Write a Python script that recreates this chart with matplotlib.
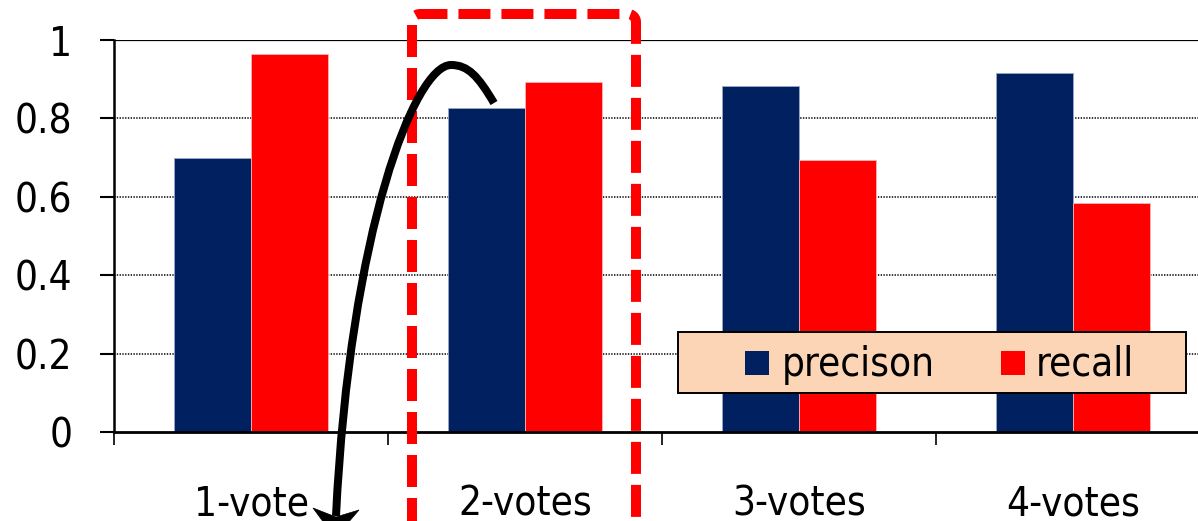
import matplotlib
matplotlib.use("Agg")
import matplotlib.pyplot as plt
import numpy as np
from matplotlib.lines import Line2D
from matplotlib.patches import Rectangle, Polygon, PathPatch
from matplotlib.path import Path
from matplotlib.transforms import IdentityTransform

plt.rcParams['lines.scale_dashes'] = False

# ---- data ----
categories = ["1-vote", "2-votes", "3-votes", "4-votes"]
precision = [0.70, 0.827, 0.883, 0.917]
recall = [0.964, 0.894, 0.694, 0.585]
series_names = ["precison", "recall"]
yticks = [0, 0.2, 0.4, 0.6, 0.8, 1.0]
ytick_labels = ["0", "0.2", "0.4", "0.6", "0.8", "1"]

NAVY = "#002060"
RED = "#FF0000"
LEGEND_BG = "#FBD5B5"
FONT = dict(family="DejaVu Sans", stretch="condensed")
FS = 29

W, H = 1198, 521
fig = plt.figure(figsize=(W / 100, H / 100), dpi=100)
fig.patch.set_facecolor("white")

# axes frame in pixel layout: x from 114 across four 274-px slots, y from 40 (1.0) to 432 (0)
ax = fig.add_axes([114 / W, (H - 432) / H, 1096 / W, 392 / H])
ax.set_xlim(-0.5, 3.5)
ax.set_ylim(0, 1)

x = np.arange(len(categories))
bw = 0.282
ax.bar(x - bw / 2, precision, bw, color=NAVY, edgecolor="#9aa8c8", linewidth=0.6, zorder=3)
ax.bar(x + bw / 2, recall, bw, color=RED, edgecolor="#ffb3b3", linewidth=0.6, zorder=3)

# gridlines
for v in yticks[1:]:
    ax.axhline(v, color="black", linestyle=(0, (1.0, 1.0)), linewidth=1.1, zorder=1)
ax.axhline(1.0, color="black", linewidth=0.9, zorder=1)

for s in ["top", "right"]:
    ax.spines[s].set_visible(False)
ax.spines["left"].set_linewidth(1.8)
ax.spines["bottom"].set_linewidth(2.0)
ax.spines["left"].set_zorder(4)
ax.spines["bottom"].set_zorder(4)

ax.set_yticks(yticks)
ax.set_yticklabels(ytick_labels, fontsize=FS, **FONT)
ax.tick_params(axis="y", length=10, width=1.5, pad=20, direction="out")

ax.set_xticks(x)
ax.set_xticklabels(categories, fontsize=FS, **FONT)
ax.set_xticks(np.arange(-0.5, 4.0, 1.0), minor=True)
ax.tick_params(axis="x", which="major", length=0, pad=38)
ax.tick_params(axis="x", which="minor", length=9.5, width=1.2, direction="out")

# ---- legend (drawn in pixel space) ----
def disp(px, py):
    return (px, H - py)

tr = IdentityTransform()
lx0, ly0, lx1, ly1 = 678, 332, 1186, 393
fig.patches.append(Rectangle(disp(lx0, ly1), lx1 - lx0, ly1 - ly0, transform=tr,
                             facecolor=LEGEND_BG, edgecolor="black", linewidth=1.4, zorder=5))
sq = 24
for (sx, tx), name, col in zip([(745, 782), (1001, 1036)], series_names, [NAVY, RED]):
    fig.patches.append(Rectangle(disp(sx, 375), sq, sq, transform=tr,
                                 facecolor=col, edgecolor="none", zorder=6))
    fig.text(*disp(tx, 376), name, transform=tr, fontsize=FS, va="baseline", ha="left",
             zorder=7, **FONT)

# ---- dashed highlight frame around the 2-votes group ----
bx0, bx1, by, r = 412, 636, 14, 8
ang = np.linspace(np.pi, np.pi / 2, 12)
pts = [(bx0, 545)]
pts += [(bx0 + r + r * np.cos(a), by + r - r * np.sin(a)) for a in ang]
ang2 = np.linspace(np.pi / 2, 0, 12)
pts += [(bx1 - r + r * np.cos(a), by + r - r * np.sin(a)) for a in ang2]
pts += [(bx1, 545)]
pts = np.array(pts)
k = 0.72  # px -> pt
frame = Line2D(pts[:, 0], H - pts[:, 1], transform=tr, color=RED, linewidth=10 * k,
               linestyle=(8 * k, (32 * k, 11 * k)), solid_joinstyle="round",
               dash_capstyle="butt", dash_joinstyle="round", zorder=8)
fig.lines.append(frame)

# ---- curved pointer arrow ----
verts = [(494, 103), (478, 76), (468, 65), (451, 65),
         (415, 65), (350, 230), (336, 516)]
codes = [Path.MOVETO, Path.CURVE4, Path.CURVE4, Path.CURVE4,
         Path.CURVE4, Path.CURVE4, Path.CURVE4]
verts_d = [disp(*v) for v in verts]
fig.patches.append(PathPatch(Path(verts_d, codes), transform=tr, facecolor="none",
                             edgecolor="black", linewidth=8 * k, capstyle="butt", zorder=9))
head = [disp(313, 508), disp(336, 517), disp(359, 510), disp(335, 538)]
fig.patches.append(Polygon(head, closed=True, transform=tr, facecolor="black",
                           edgecolor="black", linewidth=0.5, zorder=9))

fig.savefig("out.png", dpi=100, facecolor="white")
